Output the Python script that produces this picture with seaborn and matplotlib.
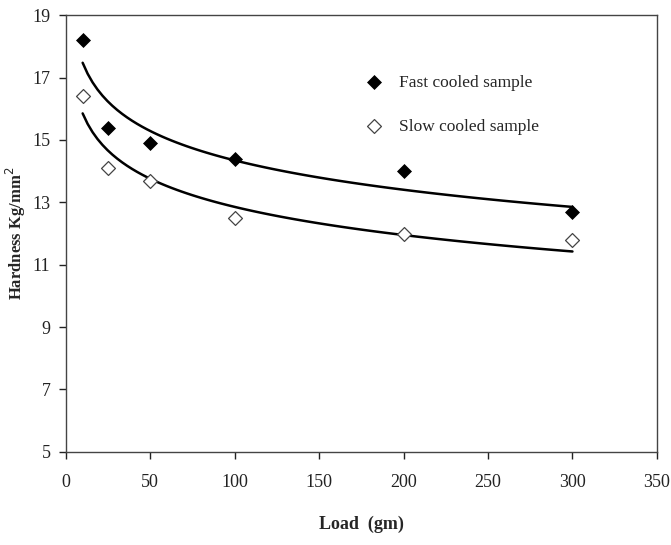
import numpy as np
import pandas as pd
import matplotlib
matplotlib.use("Agg")
import matplotlib.pyplot as plt
import seaborn as sns

# Data
load = [10, 25, 50, 100, 200, 300]
fast_cooled = [18.2, 15.4, 14.9, 14.4, 14.0, 12.7]
slow_cooled = [16.4, 14.1, 13.7, 12.5, 12.0, 11.8]

x_ticks = [0, 50, 100, 150, 200, 250, 300, 350]
y_ticks = [5, 7, 9, 11, 13, 15, 17, 19]

df_fast = pd.DataFrame({"load": load, "hardness": fast_cooled})
df_slow = pd.DataFrame({"load": load, "hardness": slow_cooled})

sns.set_style("ticks")
plt.rcParams["font.family"] = ["Liberation Serif", "DejaVu Serif"]

fig = plt.figure(figsize=(6.71, 5.45), dpi=100)
ax = fig.add_axes([0.098, 0.171, 0.881, 0.801])

# logarithmic trend lines
sns.regplot(data=df_fast, x="load", y="hardness", logx=True, scatter=False, ci=None,
            color="black", line_kws={"lw": 1.8}, ax=ax)
sns.regplot(data=df_slow, x="load", y="hardness", logx=True, scatter=False, ci=None,
            color="black", line_kws={"lw": 1.8}, ax=ax)

sns.scatterplot(data=df_fast, x="load", y="hardness", marker="D", s=50,
                color="black", edgecolor="black", label="Fast cooled sample", ax=ax, zorder=3)
sns.scatterplot(data=df_slow, x="load", y="hardness", marker="D", s=50,
                facecolor="white", edgecolor="#444444", linewidth=0.9,
                label="Slow cooled sample", ax=ax, zorder=3)

ax.set_xlim(0, 350)
ax.set_ylim(5, 19)
ax.set_xticks(x_ticks)
ax.set_yticks(y_ticks)
ax.tick_params(direction="out", length=5, width=1, labelsize=13, colors="#222222", pad=6)
ax.tick_params(axis="x", pad=11)
for s in ax.spines.values():
    s.set_color("#444444")
    s.set_linewidth(1.0)

ax.set_xlabel("Load  (gm)", fontsize=13, fontweight="bold", labelpad=18)
ax.set_ylabel("Hardness Kg/mm$^2$", fontsize=12, fontweight="bold", labelpad=3)

leg = ax.legend(loc="upper left", bbox_to_anchor=(0.465, 0.90), frameon=False,
                fontsize=12.5, labelspacing=1.6, handletextpad=0.45, markerscale=1.0)

fig.savefig("out.png", dpi=100)
